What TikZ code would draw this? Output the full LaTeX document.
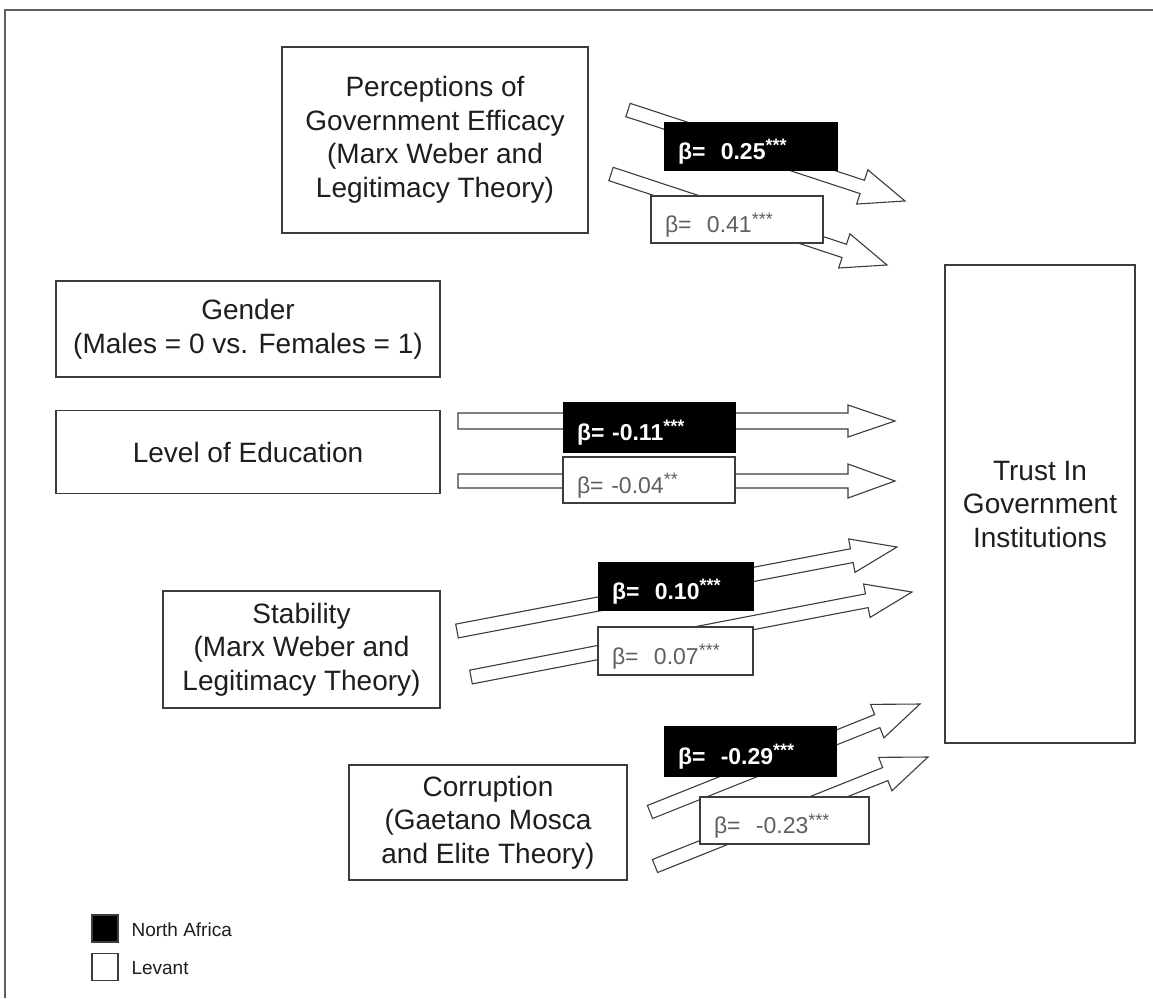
\documentclass[tikz,border=0pt]{standalone}
\usepackage{fontspec}
\setmainfont{Liberation Sans}
\usetikzlibrary{calc}
\definecolor{linegray}{RGB}{60,60,60}
\definecolor{framegray}{RGB}{95,95,95}
\definecolor{textgray}{RGB}{95,95,95}
\definecolor{boxtext}{RGB}{30,30,30}
\tikzset{
  mainbox/.style={draw=linegray, line width=1.4pt, fill=white, align=center, inner sep=0pt,
    text=boxtext, font=\fontsize{28}{33.5}\selectfont},
  nabox/.style={draw=black, line width=1pt, fill=black, text=white, inner xsep=14pt, inner ysep=0pt,
    align=left, text height=26pt, text depth=0pt, font=\fontsize{23}{24}\selectfont\bfseries},
  lvbox/.style={draw=linegray, line width=1.3pt, fill=white, text=textgray, inner xsep=14pt, inner ysep=0pt,
    align=left, text height=26pt, text depth=0pt, font=\fontsize{23}{24}\selectfont},
  blockarr/.style={draw=linegray, line width=1.1pt, fill=white, line join=miter},
  legsq/.style={draw=linegray, line width=1.2pt, minimum width=26pt, minimum height=27pt, inner sep=0pt},
  legtext/.style={anchor=west, text=boxtext, font=\fontsize{19}{21}\selectfont}
}
\newcommand\stars[1]{\raisebox{0.32em}{\fontsize{18}{18}\selectfont #1}}
% block arrow from #1 (tail centre) to #2 (tip); #3 shaft half width, #4 head half width, #5 head length
\newcommand\blockarrow[5]{%
  \path let \p1=($(#2)-(#1)$) in \pgfextra{%
    \pgfmathsetmacro\baang{atan2(\y1,\x1)}%
    \pgfmathsetmacro\balen{veclen(\x1,\y1)}%
    \xdef\baang{\baang}\xdef\balen{\balen}};
  \begin{scope}[shift={(#1)},rotate=\baang]
    \draw[blockarr] (0,-#3) -- ({\balen-#5},-#3) -- ({\balen-#5},-#4) -- (\balen,0)
      -- ({\balen-#5},#4) -- ({\balen-#5},#3) -- (0,#3) -- cycle;
  \end{scope}}
\begin{document}
\begin{tikzpicture}[x=1pt,y=-1pt]
\useasboundingbox (0,0) rectangle (1153,998);
% outer frame (partly visible)
\draw[framegray, line width=1.5pt] (5,998) -- (5,10) -- (1153,10);

% main boxes
\node[mainbox, minimum width=306pt, minimum height=186pt] (perc) at (435,140)
  {Perceptions of\\Government Efficacy\\(Marx Weber and\\Legitimacy Theory)};
\node[mainbox, minimum width=384pt, minimum height=96pt] (gender) at (248,329)
  {Gender\\(Males = 0 vs. Females = 1)};
\node[mainbox, minimum width=384pt, minimum height=83pt] (edu) at (248,452)
  {Level of Education};
\node[mainbox, minimum width=277pt, minimum height=117pt] (stab) at (301.5,649.5)
  {Stability\\(Marx Weber and\\Legitimacy Theory)};
\node[mainbox, minimum width=278pt, minimum height=115pt] (corr) at (488,822.5)
  {Corruption\\(Gaetano Mosca\\and Elite Theory)};
\node[mainbox, minimum width=190pt, minimum height=478pt] (trust) at (1040,504)
  {Trust In\\Government\\Institutions};

% arrow end points
\coordinate (p1t) at (628,110); \coordinate (p1h) at (905,201);
\coordinate (p2t) at (611,174); \coordinate (p2h) at (887,265);
\coordinate (e1t) at (458,421); \coordinate (e1h) at (895,421);
\coordinate (e2t) at (458,481); \coordinate (e2h) at (895,481);
\coordinate (s1t) at (457,631); \coordinate (s1h) at (897,547);
\coordinate (s2t) at (471,677); \coordinate (s2h) at (912,592);
\coordinate (c1t) at (650,812); \coordinate (c1h) at (920,704);
\coordinate (c2t) at (655,866); \coordinate (c2h) at (928,757);

\blockarrow{p1t}{p1h}{7}{18}{45}
\blockarrow{p2t}{p2h}{7}{18}{45}
\blockarrow{e1t}{e1h}{8}{16}{47}
\blockarrow{e2t}{e2h}{7}{17}{47}
\blockarrow{s1t}{s1h}{7}{17}{46}
\blockarrow{s2t}{s2h}{7}{17}{46}
\blockarrow{c1t}{c1h}{7}{18}{46}
\blockarrow{c2t}{c2h}{7}{18}{46}

% coefficient labels
\node[nabox, minimum width=173pt, minimum height=48pt, text width=145pt] (lp1) at (750.5,146)
  {β=\ \ 0.25\stars{***}};
\node[lvbox, minimum width=172pt, minimum height=47pt, text width=144pt] (lp2) at (737,219.5)
  {β=\ \ 0.41\stars{***}};
\node[nabox, minimum width=172pt, minimum height=50pt, text width=144pt] (le1) at (649,427)
  {β= -0.11\stars{***}};
\node[lvbox, minimum width=172pt, minimum height=46pt, text width=144pt] (le2) at (649,480)
  {β= -0.04\stars{**}};
\node[nabox, minimum width=155pt, minimum height=48pt, text width=127pt] (ls1) at (675.5,586)
  {β=\ \ 0.10\stars{***}};
\node[lvbox, minimum width=155pt, minimum height=48pt, text width=127pt] (ls2) at (675.5,651)
  {β=\ \ 0.07\stars{***}};
\node[nabox, minimum width=172pt, minimum height=50pt, text width=144pt] (lc1) at (750,751)
  {β=\ \ -0.29\stars{***}};
\node[lvbox, minimum width=169pt, minimum height=47pt, text width=141pt] (lc2) at (784.5,820.5)
  {β=\ \ -0.23\stars{***}};

% legend
\node[legsq, fill=black] (legna) at (105,928.5) {};
\node[legsq, fill=white] (leglv) at (105,967) {};
\node[legtext] (legnat) at (128,930) {North Africa};
\node[legtext] (leglvt) at (128,968) {Levant};
\end{tikzpicture}
\end{document}
